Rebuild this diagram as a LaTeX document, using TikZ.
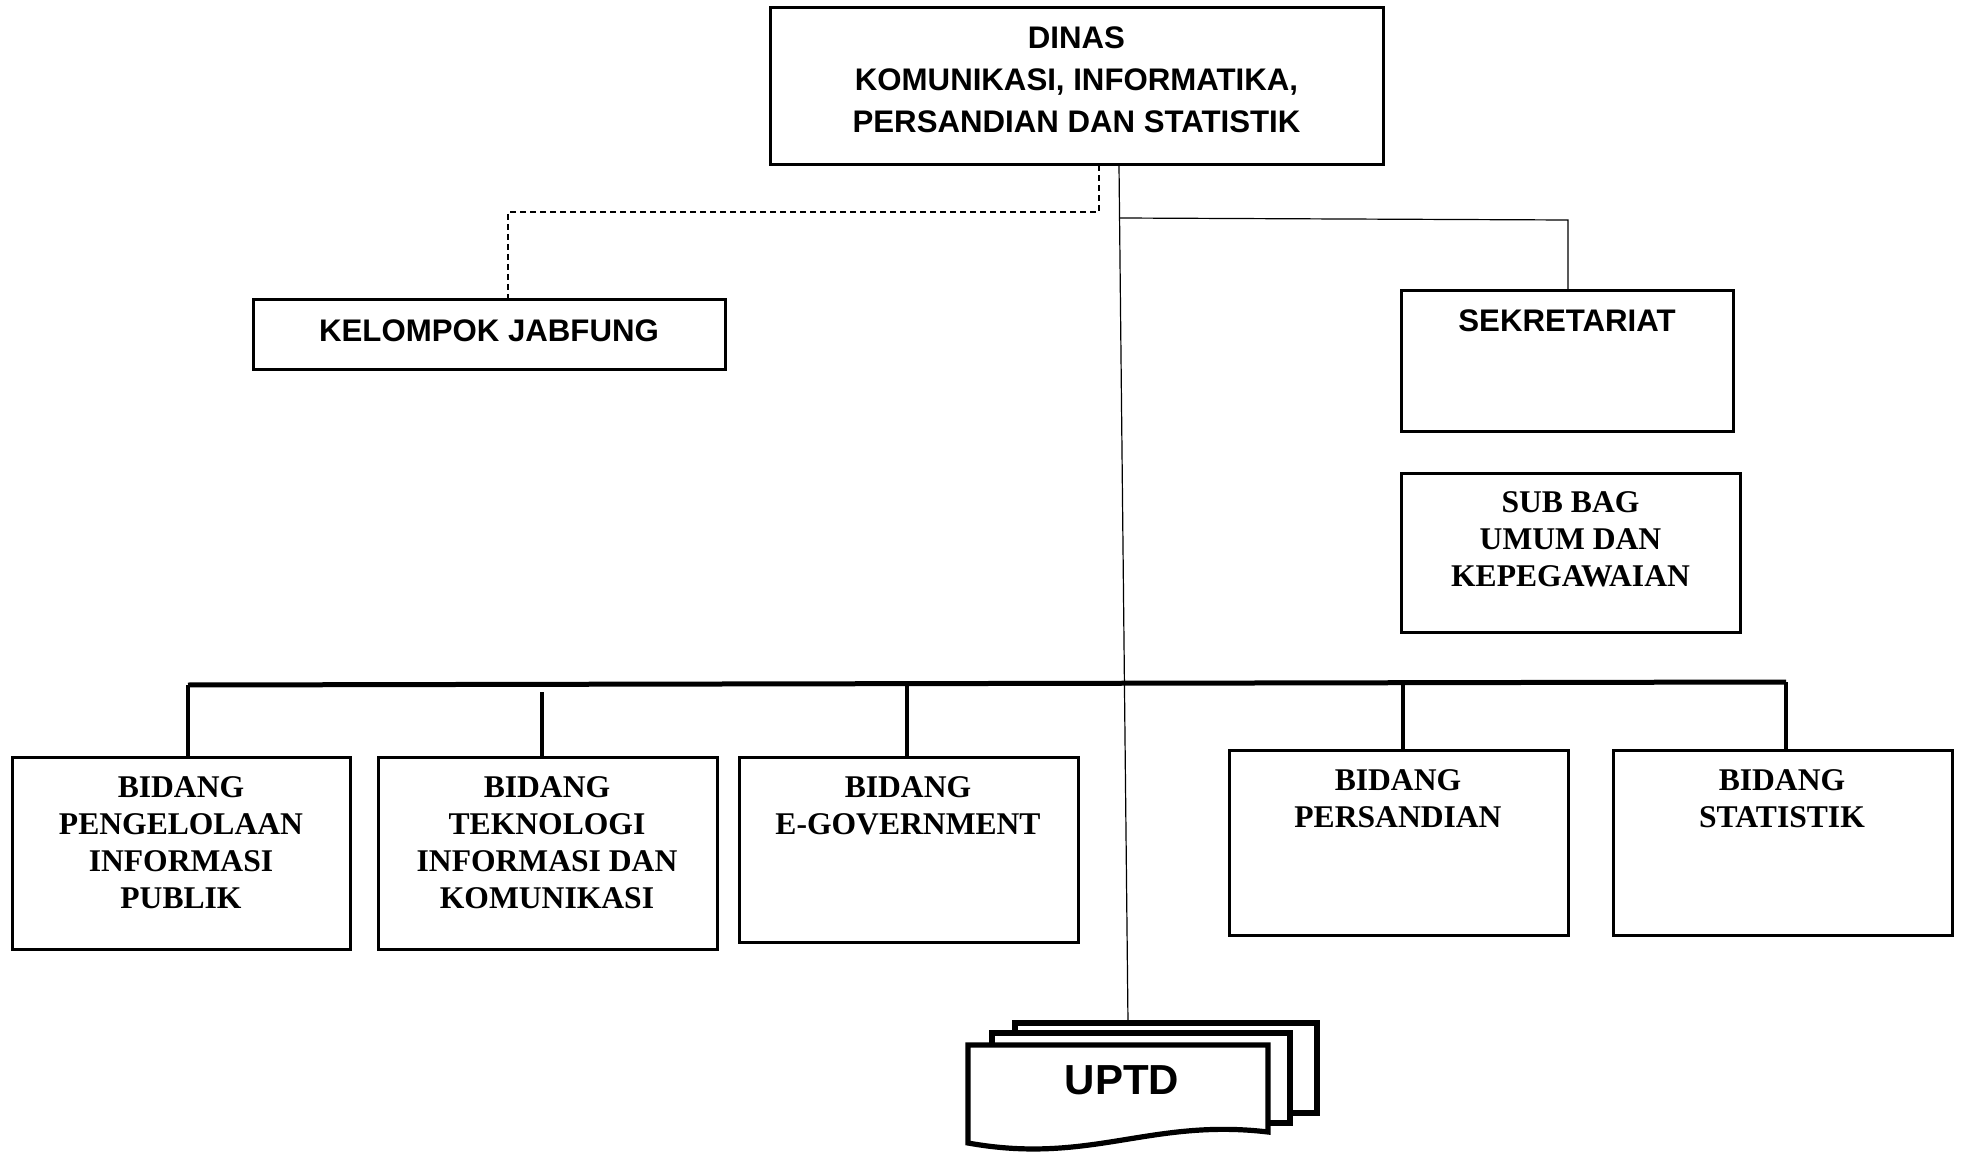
\documentclass[tikz,border=0pt]{standalone}
\usepackage{fontspec}
\usetikzlibrary{calc}
\setmainfont{Liberation Serif}
\newfontfamily\arialf{Liberation Sans}
\begin{document}
\begin{tikzpicture}[x=0.5pt,y=-0.5pt,
  box/.style={draw,line width=1.5pt,inner sep=0pt,rectangle},
  sanstxt/.style={font=\arialf\bfseries\fontsize{15.6}{21}\selectfont,align=center,inner sep=0pt},
  seriftxt/.style={font=\bfseries\fontsize{15.8}{18.5}\selectfont,align=center,inner sep=0pt},
  thin/.style={line width=0.6pt},
  dropline/.style={line width=1.8pt},
  busline/.style={line width=2.5pt},
  dashline/.style={line width=0.6pt,dash pattern=on 3pt off 2pt},
  uptdline/.style={line width=2.6pt,fill=white,line join=miter}]
\useasboundingbox (0,0) rectangle (1961,1155);
% boxes
\node[box,minimum width=306.5pt,minimum height=78.5pt] (dinas) at (1076.5,86.5) {};
\node[box,minimum width=236pt,minimum height=35pt] (jab) at (489,335) {};
\node[box,minimum width=166pt,minimum height=70pt] (sek) at (1567,361) {};
\node[box,minimum width=169.5pt,minimum height=79.5pt] (sub) at (1570.5,552.5) {};
\node[box,minimum width=169pt,minimum height=96pt] (b1) at (181,853) {};
\node[box,minimum width=169.5pt,minimum height=96pt] (b2) at (547.5,853) {};
\node[box,minimum width=169.5pt,minimum height=92.5pt] (b3) at (908.5,849.5) {};
\node[box,minimum width=169.5pt,minimum height=92.5pt] (b4) at (1398.5,842.5) {};
\node[box,minimum width=169.5pt,minimum height=92.5pt] (b5) at (1782.5,842.5) {};
% texts
\node[sanstxt] (tdinas) at (1076.5,80) {DINAS\\KOMUNIKASI, INFORMATIKA,\\PERSANDIAN DAN STATISTIK};
\node[sanstxt] (tjab) at (489,331) {KELOMPOK JABFUNG};
\node[sanstxt] (tsek) at (1567,321) {SEKRETARIAT};
\node[seriftxt] (tsub) at (1570.5,539) {SUB BAG\\UMUM DAN\\KEPEGAWAIAN};
\node[seriftxt] (tb1) at (181,843) {BIDANG\\PENGELOLAAN\\INFORMASI\\PUBLIK};
\node[seriftxt] (tb2) at (547,843) {BIDANG\\TEKNOLOGI\\INFORMASI DAN\\KOMUNIKASI};
\node[seriftxt] (tb3) at (908,806) {BIDANG\\E-GOVERNMENT};
\node[seriftxt] (tb4) at (1398,798.5) {BIDANG\\PERSANDIAN};
\node[seriftxt] (tb5) at (1782,798.5) {BIDANG\\STATISTIK};
% UPTD stack
\draw[uptdline] (1015,1023) rectangle (1317,1113);
\draw[uptdline] (992,1033) rectangle (1290,1123);
\draw[uptdline] (968,1045) -- (1268,1045) -- (1268,1132)
  .. controls (1150,1118) and (1090,1165) .. (968,1143) -- cycle;
\node[font=\arialf\bfseries\fontsize{21}{25}\selectfont,inner sep=0pt] (uptd) at (1122,1080) {UPTD};
\coordinate (uptdtop) at (1128,1023);
% connectors
\coordinate (v0) at (1119,165);
\draw[thin] (v0) -- (uptdtop);
\coordinate (s0) at (1119,218);
\coordinate (s1) at (1568,220);
\draw[thin] (s0) -- (s1) -- (s1 |- sek.north);
\coordinate (j0) at (1099,165);
\coordinate (j1) at (508,212);
\draw[dashline] (j0) -- (j0 |- j1) -- (j1) -- (j1 |- jab.north);
% bus
\coordinate (busL) at (188,685);
\coordinate (busR) at (1786,682);
\draw[busline] (busL) -- (busR);
\draw[dropline] (busL) -- (busL |- b1.north);
\coordinate (d2) at (542,692);
\draw[dropline] (d2) -- ($(d2 |- b2.north)+(0,3)$);
\coordinate (d3) at (907,684);
\draw[dropline] (d3) -- (d3 |- b3.north);
\coordinate (d4) at (1403,683);
\draw[dropline] (d4) -- ($(d4 |- b4.north)+(0,3)$);
\draw[dropline] (busR) -- ($(busR |- b5.north)+(0,3)$);
\end{tikzpicture}
\end{document}
